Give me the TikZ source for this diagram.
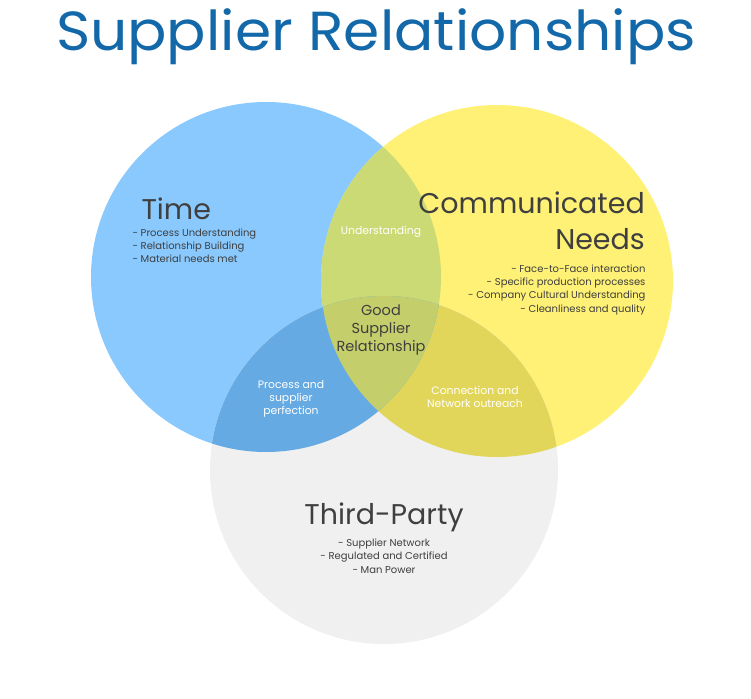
\documentclass[tikz,border=0pt]{standalone}
\usepackage{fontspec}
\setmainfont{Poppins}
\newfontfamily\titlefont{Poppins}[FakeStretch=1.06]
\definecolor{timeblue}{HTML}{89C9FD}
\definecolor{needyellow}{HTML}{FFF176}
\definecolor{partygrey}{HTML}{F0F0F0}
\definecolor{tnmix}{HTML}{CCDA75}
\definecolor{tpmix}{HTML}{65AAE3}
\definecolor{npmix}{HTML}{E2D65A}
\definecolor{allmix}{HTML}{C4CE6B}
\definecolor{ink}{HTML}{3F3F3F}
\definecolor{titleblue}{HTML}{1268A8}
\begin{document}
\begin{tikzpicture}[x=1pt,y=-1pt,
  head/.style={font=\fontsize{28.5}{36}\selectfont,text=ink},
  items/.style={font=\fontsize{10}{13.4}\selectfont,text=ink},
  middle/.style={font=\fontsize{10.8}{13}\selectfont,text=white,align=center}]
\useasboundingbox (0,0) rectangle (751,698);
\coordinate (T) at (266,277);
\coordinate (N) at (497,281);
\coordinate (P) at (384,470);
% the three circles
\fill[timeblue] (T) circle (175);
\fill[needyellow] (N) circle (176);
\fill[partygrey] (P) circle (174);
% overlaps
\begin{scope}
\clip (N) circle (176);
\fill[npmix] (P) circle (174);
\end{scope}
\begin{scope}
\clip (T) circle (175);
\fill[tnmix] (N) circle (176);
\fill[tpmix] (P) circle (174);
\clip (N) circle (176);
\fill[allmix] (P) circle (174);
\end{scope}
% texts
\node[text=titleblue,font=\titlefont\fontsize{55}{60}\selectfont] (title) at (376,37) {Supplier Relationships};
\node[head,anchor=base west] (time) at (138,219) {Time};
\node[items,anchor=north west,align=left] (timelist) at (129,225) {- Process Understanding\\- Relationship Building\\- Material needs met};
\node[head,anchor=north east,align=right,inner sep=0pt] (needs) at (645,192) {Communicated\\Needs};
\node[items,anchor=north east,align=right] (needlist) at (649,261) {- Face-to-Face interaction\\- Specific production processes\\- Company Cultural Understanding\\- Cleanliness and quality};
\node[head] (party) at (384,517) {Third-Party};
\node[items,align=center] (partylist) at (384,556) {- Supplier Network\\- Regulated and Certified\\- Man Power};
\node[middle] (tn) at (381,232) {Understanding};
\node[middle] (tp) at (291,399) {Process and\\supplier\\perfection};
\node[middle] (np) at (475,397) {Connection and\\Network outreach};
\node[font=\fontsize{14.5}{18}\selectfont,text=ink,align=center] (good) at (381,330) {Good\\Supplier\\Relationship};
\end{tikzpicture}
\end{document}
